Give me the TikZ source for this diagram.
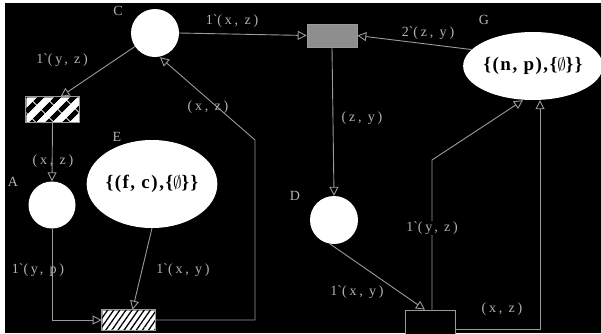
\documentclass[tikz,border=0pt]{standalone}
\usepackage{fontspec}
\setmainfont{Liberation Serif}
\newfontfamily\lblfont[LetterSpace=20]{Liberation Serif}
\newfontfamily\setfont[LetterSpace=8]{Liberation Serif}
\usetikzlibrary{arrows.meta,patterns.meta,shapes.geometric}
\definecolor{ln}{HTML}{9A9A9A}
\definecolor{tx}{HTML}{B4B4B4}
\definecolor{tg}{HTML}{8E8E8E}
\begin{document}
\begin{tikzpicture}[x=1pt,y=-1pt,
  place/.style={circle,fill=white,inner sep=0pt},
  bigplace/.style={ellipse,fill=white,inner sep=0pt,font=\setfont\fontsize{19}{21}\selectfont\bfseries},
  arc/.style={draw=ln,line width=0.9pt,-{Triangle[open,length=9pt,width=9pt,line width=0.9pt]}},
  lbl/.style={text=tx,inner sep=1pt,font=\lblfont\fontsize{14}{16}\selectfont},
  plbl/.style={text=tx,inner sep=0pt,font=\fontsize{14}{16}\selectfont},
  trans/.style={draw=ln,line width=0.6pt,inner sep=0pt}
]
\useasboundingbox (0,0) rectangle (601,333);
\fill[white] (0,0) rectangle (601,333);
\fill[black] (5,3) rectangle (601,333);

% places
\node[place,minimum size=48pt] (C) at (155,33) {};
\node[place,minimum size=47pt] (A) at (52,205) {};
\node[place,minimum size=48pt] (D) at (334,220) {};
\node[bigplace,minimum width=127pt,minimum height=88pt] (E) at (152,184) {\{(f, c),\{$\emptyset$\}\}};
\node[bigplace,minimum width=130pt,minimum height=68pt] (G) at (533,66) {\{(n, p),\{$\emptyset$\}\}};

% place names
\node[plbl] (nC) at (118,11) {C};
\node[plbl] (nA) at (13,182) {A};
\node[plbl] (nE) at (117,137) {E};
\node[plbl] (nG) at (484,20) {G};
\node[plbl] (nD) at (295,196) {D};

% transitions
\node[trans,minimum width=53pt,minimum height=25pt,fill=white] (T1) at (52.5,109.5) {};
\fill[pattern={Lines[angle=45,distance=13pt,line width=5.5pt]},pattern color=black]
  (T1.south west) rectangle (T1.north east);
\draw[ln,line width=0.6pt] (T1.south west) rectangle (T1.north east);
\node[trans,minimum width=53pt,minimum height=20pt,fill=white] (T3) at (128.5,320) {};
\fill[pattern={Lines[angle=55,distance=5pt,line width=1.3pt]},pattern color=black]
  (T3.south west) rectangle (T3.north east);
\draw[ln,line width=0.6pt] (T3.south west) rectangle (T3.north east);
\node[trans,minimum width=50pt,minimum height=23pt,fill=tg] (T2) at (332,35.5) {};
\node[trans,minimum width=50pt,minimum height=30pt,fill=black] (T4) at (430,325) {};

% helper coordinates
\coordinate (k1) at (255,140);
\coordinate (k2) at (432,160);

% arcs
\draw[arc] (C) -- ([xshift=8pt]T1.north);
\draw[arc] (T1.south) -- (A.north);
\draw[arc] (A.south) |- (T3.west);
\draw[arc] (E.south) -- ([xshift=4pt]T3.north);
\draw[arc] (T3.east) -| (k1) -- ([xshift=5pt]C.south);
\draw[arc] (C.east) -- (T2.west);
\draw[arc] (G.165) -- (T2.east);
\draw[arc] (T2.south) -- (D.north);
\draw[arc] (D.-100) -- ([xshift=-5pt]T4.north);
\draw[arc] ([xshift=2pt]T4.north) -- (k2) -- ([xshift=-10pt]G.south);
\draw[arc] ([yshift=-4pt]T4.east) -| ([xshift=7pt]G.south);

% arc labels
\node[lbl] (l1) at (62,60) {1\textasciigrave(y, z)};
\node[lbl] (l2) at (53,161) {(x, z)};
\node[lbl] (l3) at (38,270) {1\textasciigrave(y, p)};
\node[lbl] (l4) at (183,270) {1\textasciigrave(x, y)};
\node[lbl] (l5) at (208,107) {(x, z)};
\node[lbl,fill=black] (l6) at (232,21) {1\textasciigrave(x, z)};
\node[lbl,fill=black] (l7) at (428,33) {2\textasciigrave(z, y)};
\node[lbl] (l8) at (362,118) {(z, y)};
\node[lbl] (l9) at (357,292) {1\textasciigrave(x, y)};
\node[lbl,fill=black] (l10) at (432,228) {1\textasciigrave(y, z)};
\node[lbl] (l11) at (502,309) {(x, z)};
\end{tikzpicture}
\end{document}
